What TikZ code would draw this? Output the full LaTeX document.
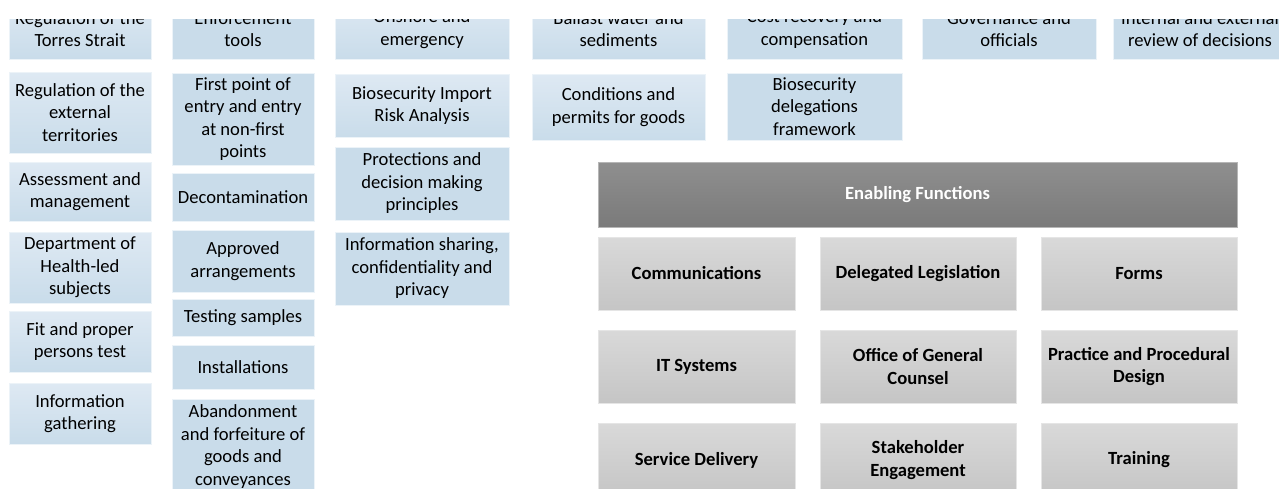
\documentclass[tikz,border=0pt]{standalone}
\usepackage{fontspec}
\setmainfont{Carlito}
\usepackage{tikz}

\definecolor{boxblue}{RGB}{201,220,234}
\definecolor{boxbluetop}{RGB}{222,233,243}
\definecolor{boxgray}{RGB}{197,197,197}
\definecolor{boxgraytop}{RGB}{217,217,217}
\definecolor{headgray}{RGB}{122,122,122}
\definecolor{headgraytop}{RGB}{143,143,143}

\tikzset{
  box/.style={rectangle, inner sep=0pt, align=center, line width=0.8pt,
    draw=white!65!boxblue, font=\fontsize{18.6}{22.5}\selectfont},
  flatbox/.style={box, fill=boxblue},
  gradbox/.style={box, top color=boxbluetop, bottom color=boxblue},
  funcbox/.style={box, draw=white!55!boxgray, top color=boxgraytop, bottom color=boxgray,
    minimum width=196, minimum height=73, font=\fontsize{18.6}{22.5}\selectfont\bfseries},
  headbox/.style={box, draw=white!45!headgray, top color=headgraytop, bottom color=headgray,
    text=white, font=\fontsize{18.6}{22.5}\selectfont\bfseries}
}

\begin{document}
\begin{tikzpicture}[x=1pt, y=-1pt]
            \useasboundingbox (0,0) rectangle (1279,488);
            \clip (0,19) rectangle (1279,488);

            \node[gradbox, minimum width=142, minimum height=60] (torres) at (80,29) {Regulation of the\\Torres Strait}; % col 1
            \node[gradbox, minimum width=142, minimum height=81] (external) at (80,112.5) {Regulation of the\\external\\territories};
            \node[gradbox, minimum width=142, minimum height=59] (assess) at (80,191.5) {Assessment and\\management};
            \node[gradbox, minimum width=142, minimum height=71] (health) at (80,267.5) {Department of\\Health-led\\subjects};
            \node[gradbox, minimum width=142, minimum height=61] (fitproper) at (80,341.5) {Fit and proper\\persons test};
            \node[gradbox, minimum width=142, minimum height=61] (infogather) at (80,413.5) {Information\\gathering};

            \node[flatbox, minimum width=142, minimum height=60] (enforce) at (243,29) {Enforcement\\tools}; % col 2
            \node[flatbox, minimum width=142, minimum height=92] (firstpoint) at (243,119) {First point of\\entry and entry\\at non-first\\points};
            \node[flatbox, minimum width=142, minimum height=48] (decontam) at (243,197) {Decontamination};
            \node[flatbox, minimum width=142, minimum height=62] (approved) at (243,261) {Approved\\arrangements};
            \node[flatbox, minimum width=142, minimum height=37] (testing) at (243,317.5) {Testing samples};
            \node[flatbox, minimum width=142, minimum height=44] (install) at (243,367) {Installations};
            \node[flatbox, minimum width=142, minimum height=95] (abandon) at (243,446.5) {Abandonment\\and forfeiture of\\goods and\\conveyances};

            \node[gradbox, minimum width=174, minimum height=60] (onshore) at (422,29) {Onshore and\\emergency}; % col 3
            \node[gradbox, minimum width=174, minimum height=63] (bira) at (422,105.5) {Biosecurity Import\\Risk Analysis};
            \node[flatbox, minimum width=174, minimum height=73] (protect) at (422,183.5) {Protections and\\decision making\\principles};
            \node[flatbox, minimum width=174, minimum height=73] (infoshare) at (422,268.5) {Information sharing,\\confidentiality and\\privacy};

            \node[gradbox, minimum width=173, minimum height=60] (ballast) at (618.5,29) {Ballast water and\\sediments}; % col 4
            \node[gradbox, minimum width=173, minimum height=66] (permits) at (618.5,107) {Conditions and\\permits for goods};

            \node[flatbox, minimum width=175, minimum height=60] (costrec) at (814.5,29) {Cost recovery and\\compensation}; % col 5
            \node[flatbox, minimum width=175, minimum height=67] (delegframe) at (814.5,106.5) {Biosecurity\\delegations\\framework};

            \node[flatbox, minimum width=174, minimum height=60] (governance) at (1009,29) {Governance and\\officials}; % col 6
            \node[flatbox, minimum width=174, minimum height=60] (review) at (1200,29) {Internal and external\\review of decisions}; % col 7

            \node[headbox, minimum width=639, minimum height=65] (enabling) at (917.5,194.5) {Enabling Functions}; % header

            \node[funcbox, minimum width=197] (comms) at (696.5,273.5) {Communications};
            \node[funcbox] (deleglegis) at (918,273.5) {Delegated Legislation};
            \node[funcbox] (forms) at (1139,273.5) {Forms};
            \node[funcbox, minimum width=197] (itsys) at (696.5,366.5) {IT Systems};
            \node[funcbox] (ogc) at (918,366.5) {Office of General\\Counsel};
            \node[funcbox] (practice) at (1139,366.5) {Practice and Procedural\\Design};
            \node[funcbox, minimum width=197] (service) at (696.5,460) {Service Delivery};
            \node[funcbox] (stakeholder) at (918,460) {Stakeholder\\Engagement};
            \node[funcbox] (training) at (1139,460) {Training};

        \end{tikzpicture}
\end{document}
